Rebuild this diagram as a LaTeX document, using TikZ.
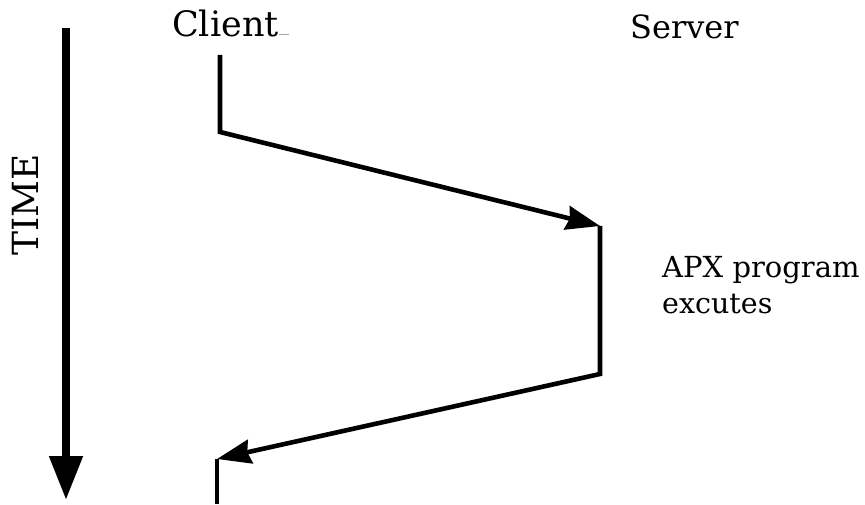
\documentclass[tikz,border=0pt]{standalone}
\usepackage{fontspec}
\setmainfont{DejaVu Serif}
\usetikzlibrary{arrows.meta}
\begin{document}
\begin{tikzpicture}[x=1pt,y=-1pt,
  flow/.style={line width=4.6pt, line join=miter},
  flowtip/.style={-{Stealth[length=34pt,width=24pt,inset=3pt]}},
  label/.style={inner sep=0pt, anchor=base west}]
\useasboundingbox (0,0) rectangle (865,505);

% time axis
\coordinate (t0) at (66,28);
\coordinate (t1) at (66,500);
\draw[line width=8pt, -{Triangle[length=44pt,width=32pt]}] (t0) -- (t1);
\node[rotate=90, inner sep=0pt, font=\fontsize{36}{40}\selectfont] (time) at (25,205) {TIME};

% headings
\node[label, font=\fontsize{35}{40}\selectfont] (client) at (172,37) {Client};
\node[label, font=\fontsize{32}{38}\selectfont] (server) at (630,39) {Server};
\draw[gray!70, line width=0.6pt] (client.base east) ++(0,-3) -- ++(10,0);

% client and server timelines
\coordinate (c0) at (220,55);
\coordinate (c1) at (220,132);
\coordinate (s0) at (600,226);
\coordinate (s1) at (600,374);
\coordinate (c2) at (217,459);
\coordinate (c3) at (217,504);

\draw[flow, flowtip] (c0) -- (c1) -- (s0);
\draw[flow, flowtip] (s0) -- (s1) -- (c2);
\draw[flow] (c2) -- (c3);

% work done on the server
\node[label, font=\fontsize{29}{36}\selectfont] (apx) at (662,277) {APX program};
\node[label, font=\fontsize{28.5}{36}\selectfont] (exc) at (662,313) {excutes};
\end{tikzpicture}
\end{document}
